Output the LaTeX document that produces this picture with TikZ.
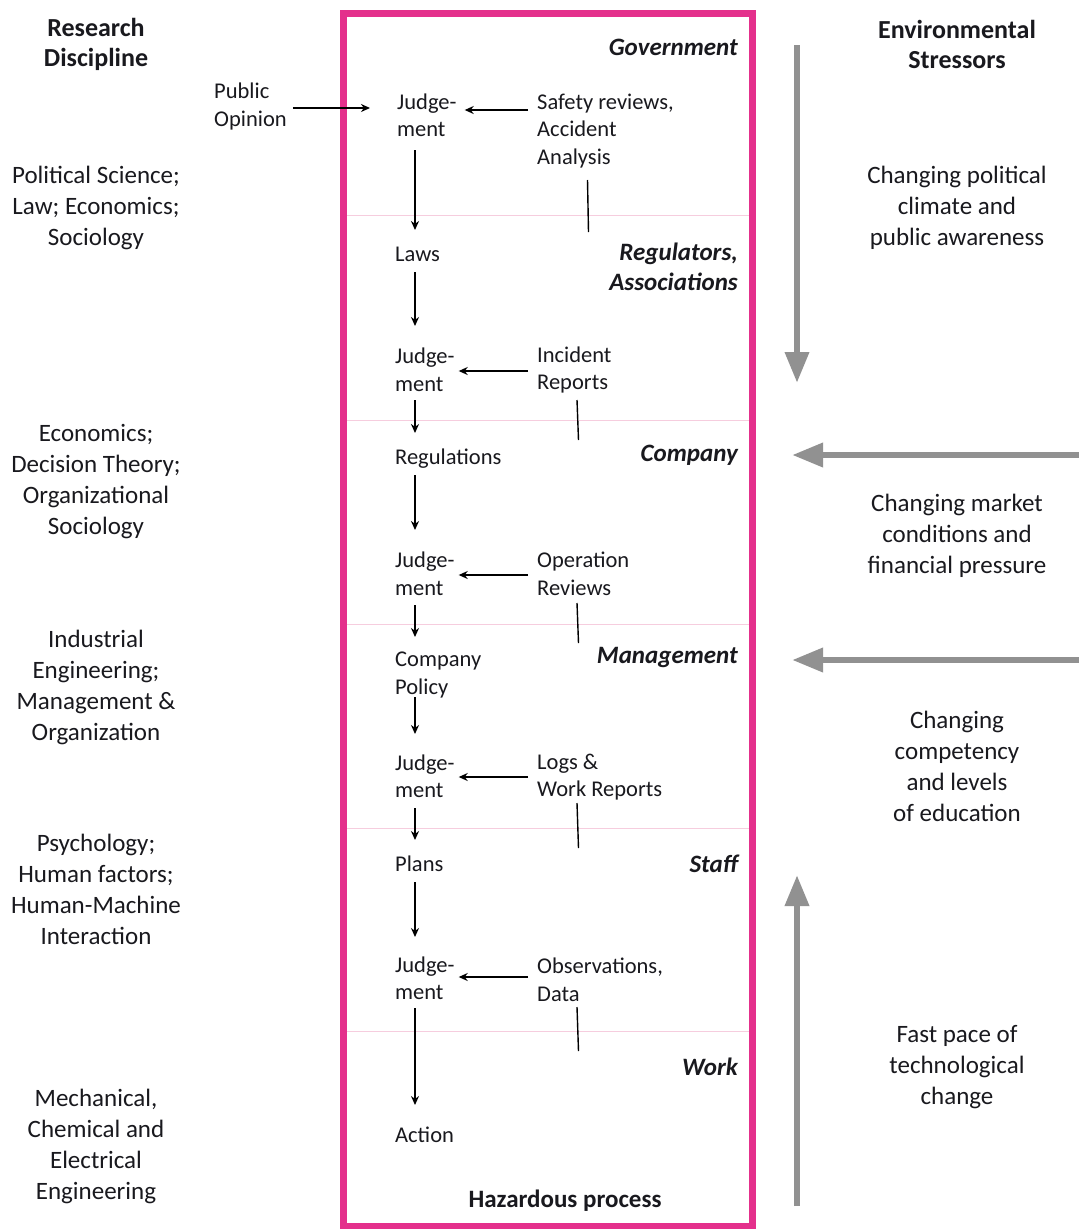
\documentclass[tikz,border=0pt]{standalone}
\usepackage{fontspec}
\setmainfont{Carlito}
\usetikzlibrary{arrows.meta,calc}
\definecolor{boxpink}{RGB}{228,48,140}
\definecolor{seppink}{RGB}{246,205,222}
\definecolor{stressgray}{RGB}{145,145,145}
\definecolor{txt}{RGB}{25,25,30}
\begin{document}
\begin{tikzpicture}[x=1pt,y=-1pt,
  every node/.style={text=txt},
  big/.style={font=\fontsize{25}{31}\selectfont, align=center, inner sep=0pt},
  bighead/.style={font=\bfseries\fontsize{26}{30}\selectfont, align=center, inner sep=0pt},
  inner/.style={font=\fontsize{22.5}{27.5}\selectfont, align=left, anchor=west, inner sep=0pt},
  level/.style={font=\bfseries\itshape\fontsize{25}{30}\selectfont, align=right, anchor=east, inner sep=0pt},
  arr/.style={line width=1.8pt, -{Stealth[length=9pt,width=8pt]}},
  tick/.style={line width=1.4pt},
  garr/.style={stressgray, line width=6.5pt, -{Triangle[length=31pt,width=23pt]}},
  sep/.style={seppink, line width=0.8pt}]
\useasboundingbox (0,0) rectangle (1079,1229);
\fill[white] (0,0) rectangle (1079,1229);

% frame and level separators
\draw[boxpink, line width=7pt] (343.5,13.5) rectangle (752.5,1226);
\foreach \yy in {215,420,624,828,1031}
  \draw[sep] (347,\yy) -- (749,\yy);

% left column
\node[bighead] (rd) at (96,44) {Research\\Discipline};
\node[big] (d1) at (96,207.5) {Political Science;\\Law; Economics;\\Sociology};
\node[big] (d2) at (96,482) {Economics;\\Decision Theory;\\Organizational\\Sociology};
\node[big] (d3) at (96,687.5) {Industrial\\Engineering;\\Management \&\\Organization};
\node[big] (d4) at (96,889.5) {Psychology;\\Human factors;\\Human-Machine\\Interaction};
\node[big] (d5) at (96,1146) {Mechanical,\\Chemical and\\Electrical\\Engineering};

% right column
\node[bighead] (es) at (957,44) {Environmental\\Stressors};
\node[big] (s1) at (957,207.5) {Changing political\\climate and\\public awareness};
\node[big] (s2) at (957,536) {Changing market\\conditions and\\financial pressure};
\node[big] (s3) at (957,766) {Changing\\competency\\and levels\\of education};
\node[big] (s4) at (957,1067) {Fast pace of\\technological\\change};

% level labels
\node[level] (lg) at (738,47) {Government};
\node[level] (lr) at (738,267) {Regulators,\\Associations};
\node[level] (lc) at (738,455) {Company};
\node[level] (lm) at (738,657) {Management};
\node[level] (ls) at (738,864) {Staff};
\node[level] (lw) at (738,1067) {Work};
\node[bighead, font=\bfseries\fontsize{25}{30}\selectfont] (hp) at (565,1201) {Hazardous process};

% flow nodes
\node[inner] (po) at (214,106.5) {Public\\Opinion};
\node[inner] (j1) at (397,115.5) {Judge-\\ment};
\node[inner] (laws) at (395,254) {Laws};
\node[inner] (j2) at (395,370) {Judge-\\ment};
\node[inner] (regs) at (395,459) {Regulations};
\node[inner] (j3) at (395,574) {Judge-\\ment};
\node[inner] (cp) at (395,675) {Company\\Policy};
\node[inner] (j4) at (395,776.5) {Judge-\\ment};
\node[inner] (plans) at (395,864) {Plans};
\node[inner] (j5) at (395,978.5) {Judge-\\ment};
\node[inner] (act) at (395,1135) {Action};

\node[inner] (r1) at (537,131) {Safety reviews,\\Accident\\Analysis};
\node[inner] (r2) at (537,370) {Incident\\Reports};
\node[inner] (r3) at (537,574) {Operation\\Reviews};
\node[inner] (r4) at (537,777) {Logs \&\\Work Reports};
\node[inner] (r5) at (537,980) {Observations,\\Data};

% public opinion arrow
\draw[arr] ($(po.east)+(6,1.5)$) -- ($(j1.west)+(-27,-7.5)$);

% vertical flow arrows
\draw[arr] ($(j1.west)+(18,34.5)$) -- ($(laws.west)+(20,-24)$);
\draw[arr] ($(laws.west)+(20,18)$) -- ($(j2.west)+(20,-44)$);
\draw[arr] ($(j2.west)+(20,30)$) -- ($(regs.west)+(20,-26)$);
\draw[arr] ($(regs.west)+(20,16)$) -- ($(j3.west)+(20,-44)$);
\draw[arr] ($(j3.west)+(20,31)$) -- ($(cp.west)+(20,-38)$);
\draw[arr] ($(cp.west)+(20,22)$) -- ($(j4.west)+(20,-42.5)$);
\draw[arr] ($(j4.west)+(20,31.5)$) -- ($(plans.west)+(20,-24)$);
\draw[arr] ($(plans.west)+(20,18)$) -- ($(j5.west)+(20,-41.5)$);
\draw[arr] ($(j5.west)+(20,29.5)$) -- ($(act.west)+(20,-30)$);

% feedback arrows
\draw[arr] ($(r1.west)+(-9,-21)$) -- ($(j1.east)+(8,-5.5)$);
\draw[arr] ($(r2.west)+(-9,1)$) -- ($(j2.east)+(4,1)$);
\draw[arr] ($(r3.west)+(-9,1)$) -- ($(j3.east)+(4,1)$);
\draw[arr] ($(r4.west)+(-9,0)$) -- ($(j4.east)+(4,0.5)$);
\draw[arr] ($(r5.west)+(-9,-3)$) -- ($(j5.east)+(4,-1.5)$);

% report ticks
\draw[tick] ($(r1.west)+(50.5,49)$) -- ($(r1.west)+(51.5,101)$);
\draw[tick] ($(r2.west)+(40,30)$) -- ($(r2.west)+(41.5,70)$);
\draw[tick] ($(r3.west)+(40,29)$) -- ($(r3.west)+(41.5,69)$);
\draw[tick] ($(r4.west)+(40,26)$) -- ($(r4.west)+(41.5,71)$);
\draw[tick] ($(r5.west)+(40,27)$) -- ($(r5.west)+(41.5,71)$);

% environmental stressor arrows
\coordinate (g1s) at (797,45);
\coordinate (g1e) at (797,383);
\coordinate (g2s) at (1079,455);
\coordinate (g2e) at (792,455);
\coordinate (g3s) at (1079,660);
\coordinate (g3e) at (792,660);
\coordinate (g4s) at (797,1206);
\coordinate (g4e) at (797,875);
\draw[garr] (g1s) -- (g1e);
\draw[garr] (g2s) -- (g2e);
\draw[garr] (g3s) -- (g3e);
\draw[garr] (g4s) -- (g4e);
\end{tikzpicture}
\end{document}
